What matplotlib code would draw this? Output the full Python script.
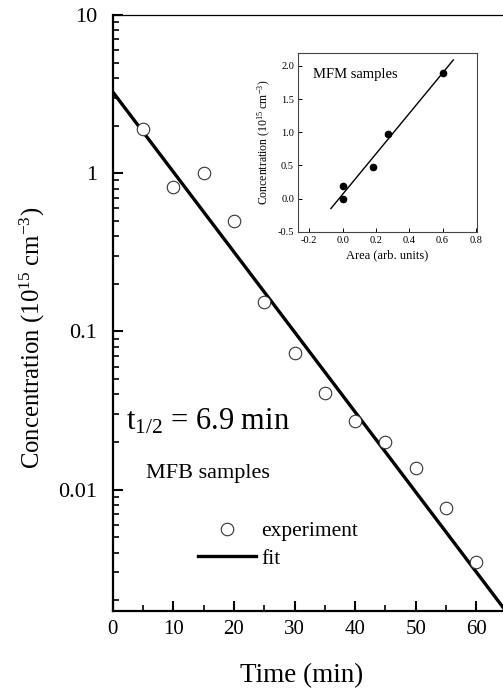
import matplotlib
matplotlib.use("Agg")
import matplotlib.pyplot as plt
from matplotlib.ticker import FixedLocator, NullFormatter, LogLocator
import numpy as np

plt.rcParams['font.family'] = ['Liberation Serif', 'DejaVu Serif']
plt.rcParams['mathtext.fontset'] = 'custom'
plt.rcParams['mathtext.rm'] = 'Liberation Serif'
plt.rcParams['mathtext.it'] = 'Liberation Serif:italic'

H = 690  # figure height in px, text below is placed in px from top

# main panel: decay of MFB concentration
time_min = [5, 10, 15, 20, 25, 30, 35, 40, 45, 50, 55, 60]
conc = [1.89, 0.82, 1.0, 0.50, 0.153, 0.073, 0.041, 0.027, 0.020, 0.0137, 0.0077, 0.0035]
fit_t = [0, 70]
fit_c = [3.27, 0.00094]
xticks = [0, 10, 20, 30, 40, 50, 60]
yticks = [0.01, 0.1, 1, 10]
ytick_labels = ["0.01", "0.1", "1", "10"]

# inset: MFM samples calibration
area = [0.0, 0.0, 0.18, 0.27, 0.605]
conc_mfm = [0.0, 0.19, 0.48, 0.98, 1.90]
line_area = [-0.07, 0.665]
line_conc = [-0.15, 2.09]
inset_xticks = [-0.2, 0.0, 0.2, 0.4, 0.6, 0.8]
inset_yticks = [-0.5, 0.0, 0.5, 1.0, 1.5, 2.0]

fig = plt.figure(figsize=(5.03, 6.90), dpi=100)
ax = fig.add_axes([0.224, 0.1138, 0.8436, 0.8645])

ax.plot(fit_t, fit_c, color='black', lw=2.4, label='fit', zorder=2)
ax.plot(time_min, conc, 'o', mfc='white', mec='#333333', mew=0.8, ms=9,
        label='experiment', zorder=3)

ax.set_yscale('log')
ax.set_xlim(0, 70)
ax.set_ylim(0.0017, 10)
ax.set_xticks(xticks)
ax.xaxis.set_minor_locator(FixedLocator([5, 15, 25, 35, 45, 55, 65]))
ax.yaxis.set_major_locator(FixedLocator(yticks))
ax.set_yticklabels(ytick_labels)
ax.yaxis.set_minor_locator(LogLocator(base=10, subs=np.arange(2, 10)))
ax.yaxis.set_minor_formatter(NullFormatter())

ax.tick_params(which='major', direction='in', length=7, width=1.5, labelsize=15)
ax.tick_params(which='minor', direction='in', length=4, width=1.2)
ax.tick_params(axis='x', pad=6)
ax.tick_params(axis='y', pad=11, labelsize=16)
ax.tick_params(top=False, right=False, which='both')
ax.spines['right'].set_visible(False)
ax.spines['left'].set_linewidth(1.6)
ax.spines['bottom'].set_linewidth(1.6)
ax.spines['top'].set_linewidth(0.9)

fig.text(302, H - 676, "Time (min)", fontsize=19.5, ha='center', va='center',
         transform=None)
fig.text(32, H - 338, r"Concentration (10$^{15}$ cm$^{-3}$)", fontsize=17.8,
         rotation=90, ha='center', va='center', transform=None)
fig.text(126, H - 430, r"t$_{1/2}$ = 6.9 min", fontsize=22, ha='left',
         va='baseline', transform=None)
fig.text(146, H - 478, "MFB samples", fontsize=16, ha='left',
         va='baseline', transform=None)

h, l = ax.get_legend_handles_labels()
ax.legend([h[1], h[0]], [l[1], l[0]], loc='upper left', frameon=False,
          bbox_to_anchor=(198 / 503, 1 - 521 / H), bbox_transform=fig.transFigure,
          fontsize=15.5, handlelength=2.7, handletextpad=0.25, labelspacing=0.36,
          borderpad=0, borderaxespad=0, numpoints=1)

# inset
ins = fig.add_axes([0.593, 0.6642, 0.3547, 0.2586])
ins.plot(line_area, line_conc, color='black', lw=1.0)
ins.plot(area, conc_mfm, 'o', color='black', ms=4.5)
ins.set_xlim(-0.266, 0.805)
ins.set_ylim(-0.5, 2.19)
ins.set_xticks(inset_xticks)
ins.set_yticks(inset_yticks)
ins.set_xticklabels(["-0.2", "0.0", "0.2", "0.4", "0.6", "0.8"])
ins.set_yticklabels(["-0.5", "0.0", "0.5", "1.0", "1.5", "2.0"])
ins.tick_params(direction='in', length=3, width=0.7, labelsize=7.5, pad=3)
for s in ins.spines.values():
    s.set_linewidth(0.8)
    s.set_color('#444444')
ins.set_xlabel("Area (arb. units)", fontsize=9, labelpad=3)
ins.set_ylabel(r"Concentration (10$^{15}$ cm$^{-3}$)", fontsize=8.5, labelpad=3)
ins.text(0.08, 0.88, "MFM samples", transform=ins.transAxes, fontsize=10.5,
         ha='left', va='center')

fig.savefig("out.png", dpi=100)
